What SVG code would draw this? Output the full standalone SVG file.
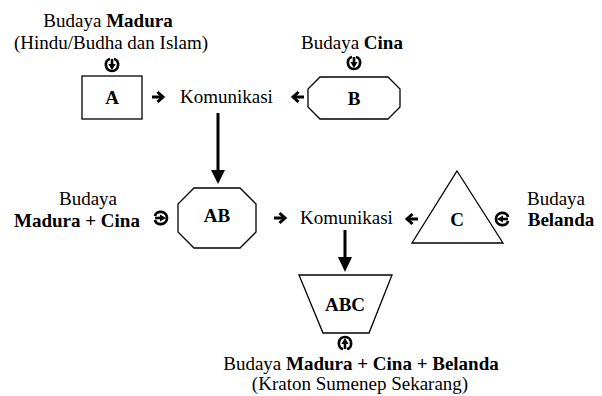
<svg xmlns="http://www.w3.org/2000/svg" width="602" height="396" viewBox="0 0 602 396" font-family="'Liberation Serif', 'DejaVu Serif', serif">
<style>
text{font-family:'Liberation Serif','DejaVu Serif',serif;font-size:19px;fill:#000}
.b{font-weight:bold}
.c{text-anchor:middle}
.shape{fill:#fff;stroke:#000;stroke-width:1.3}
.conn{stroke:#000;stroke-width:3;fill:none}
</style>
<defs>
<g id="curv">
<path d="M -2 -6 C -8 -5 -7.5 6 0 6 C 7.5 6 8 -5 2 -6" fill="none" stroke="#000" stroke-width="2.7"/>
<path d="M 0 -6 V 0" stroke="#000" stroke-width="2.6"/>
<path d="M -3.6 -1 L 3.6 -1 L 0 5 Z" fill="#000"/>
</g>
<g id="rarr">
<path d="M 0 0 H 10" stroke="#000" stroke-width="3"/>
<path d="M 5.5 -5 L 11 0 L 5.5 5" fill="none" stroke="#000" stroke-width="3"/>
</g>
</defs>

<g id="labels">
<text class="c" x="108" y="27">Budaya <tspan class="b">Madura</tspan></text>
<text class="c" x="111" y="49">(Hindu/Budha dan Islam)</text>
<text class="c" x="352" y="49">Budaya <tspan class="b">Cina</tspan></text>
<text class="c" x="88" y="205">Budaya</text>
<text class="c b" x="77" y="227">Madura + Cina</text>
<text class="c" x="556" y="205">Budaya</text>
<text class="c b" x="561" y="226">Belanda</text>
<text class="c" x="361" y="370">Budaya <tspan class="b">Madura + Cina + Belanda</tspan></text>
<text class="c" x="360" y="390">(Kraton Sumenep Sekarang)</text>
</g>

<g id="nodeA">
<rect class="shape" x="82" y="76" width="60" height="43"/>
<text class="c b" x="112" y="104">A</text>
</g>
<g id="nodeB">
<polygon class="shape" points="320,77 388,77 400,89 400,107 388,119 320,119 308,107 308,89"/>
<text class="c b" x="354" y="105">B</text>
</g>
<g id="kom1">
<text x="180" y="103">Komunikasi</text>
</g>
<g id="nodeAB">
<polygon class="shape" points="194,188 240,188 256,204 256,232 240,248 194,248 178,232 178,204"/>
<text class="c b" x="217" y="222">AB</text>
</g>
<g id="kom2">
<text x="300" y="224">Komunikasi</text>
</g>
<g id="nodeC">
<polygon class="shape" points="457,171 503,243 412,243"/>
<text class="c b" x="457" y="226">C</text>
</g>
<g id="nodeABC">
<polygon class="shape" points="299,275 392,275 369,333 323,333"/>
<text class="c b" x="345" y="311">ABC</text>
</g>

<g id="connectors">
<use href="#curv" x="112" y="65"/>
<use href="#curv" x="354" y="63"/>
<use href="#curv" transform="translate(161,218) rotate(-90)"/>
<use href="#curv" transform="translate(502,219) rotate(90)"/>
<use href="#curv" transform="translate(345,343) rotate(180)"/>
<use href="#rarr" x="152" y="97"/>
<use href="#rarr" transform="translate(304,97) scale(-1,1)"/>
<use href="#rarr" x="274" y="218"/>
<use href="#rarr" transform="translate(418,219) scale(-1,1)"/>
<path class="conn" d="M 218 113 V 172"/>
<polygon points="211,170 225,170 218,184" fill="#000"/>
<path class="conn" d="M 345 230 V 259"/>
<polygon points="338,257 352,257 345,272" fill="#000"/>
</g>
</svg>
